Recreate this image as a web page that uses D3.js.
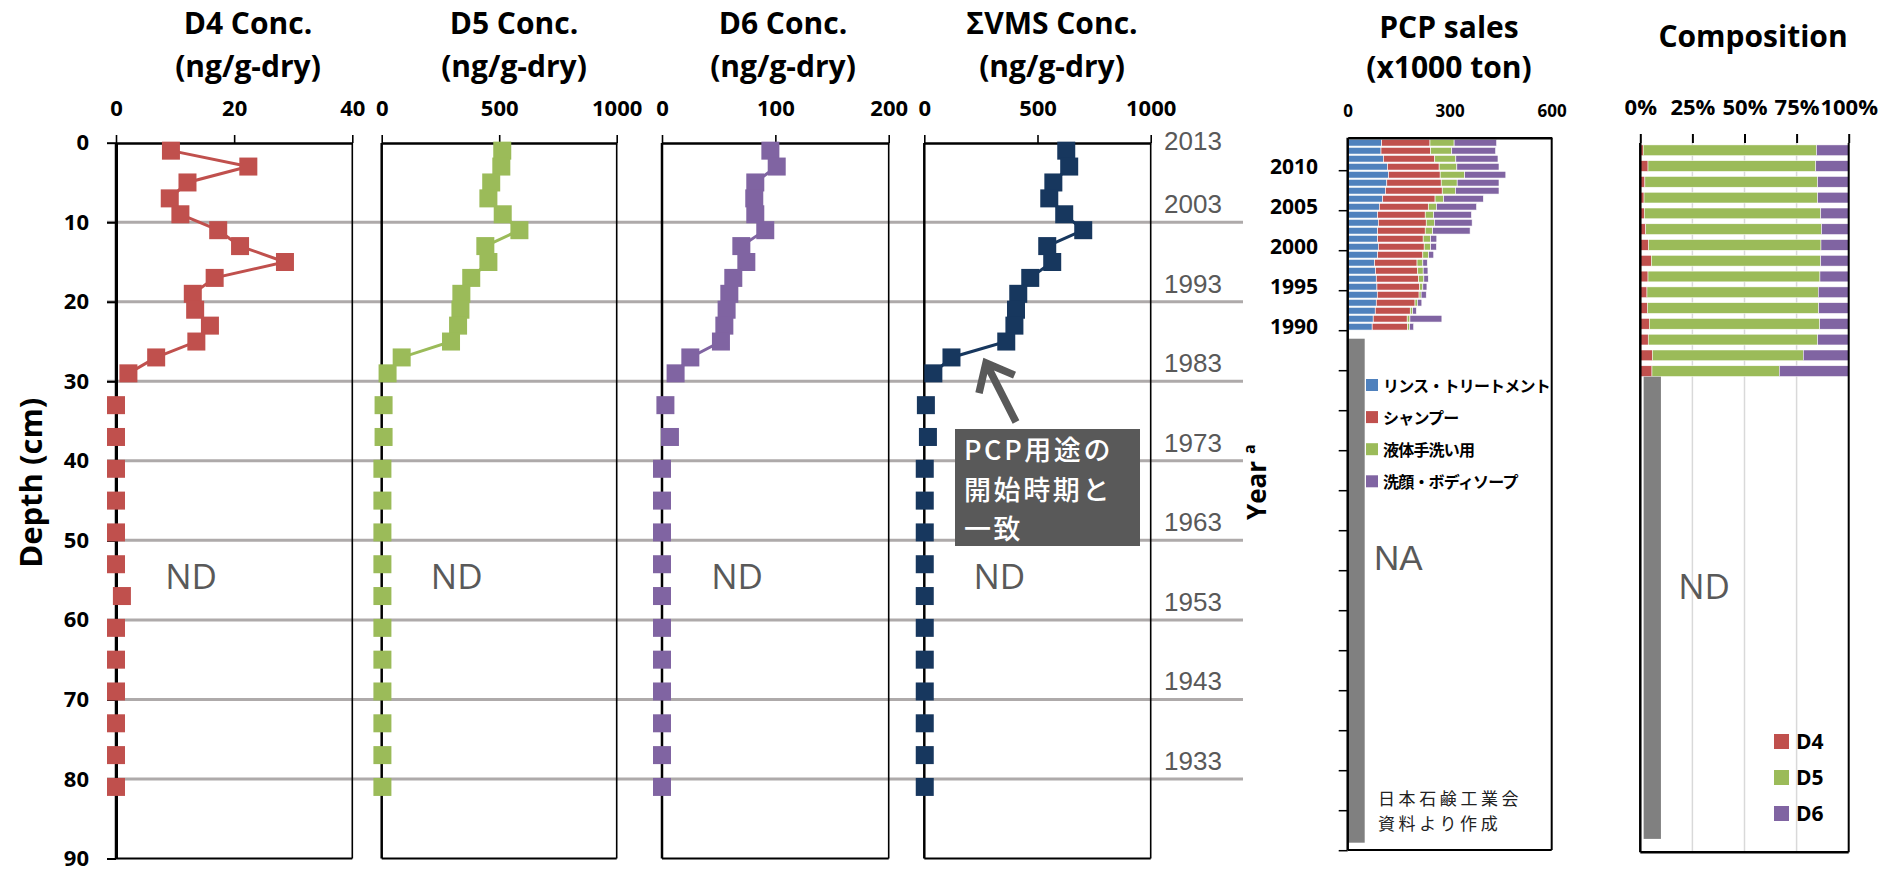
<!DOCTYPE html>
<html>
<head>
<meta charset="utf-8">
<script src="https://cdn.jsdelivr.net/npm/d3@7"></script>
<style>
  body { margin: 0; background: #fff; }
  svg { display: block; }
  .b { font-family: "Open Sans", sans-serif; font-weight: 700; fill: #000; }
  .jp { font-family: "Noto Sans CJK JP", sans-serif; }
</style>
</head>
<body>
<svg id="chart" width="1899" height="869"></svg>
<script>
// ---- sediment core: sample mid-depths (cm); the first 15 are above detection limit ----
const depths = [1, 3, 5, 7, 9, 11, 13, 15, 17, 19, 21, 23, 25, 27, 29,
                33, 37, 41, 45, 49, 53, 57, 61, 65, 69, 73, 77, 81];
const detectedCount = 15;

// concentrations (ng/g-dry)
const d4Values  = [9.3, 22.4, 12.1, 9.1, 10.9, 17.3, 21.0, 28.6, 16.7, 13.0, 13.4, 15.9, 13.6, 6.8, 2.1,
                   0, 0, 0, 0, 0, 0, 1, 0, 0, 0, 0, 0, 0];
const d5Values  = [513, 509, 466, 454, 515, 586, 441, 454, 381, 339, 335, 325, 295, 85, 25,
                   8, 8, 3, 3, 3, 3, 3, 3, 3, 3, 3, 3, 3];
const d6Values  = [95.6, 101.2, 82.3, 81.4, 82.3, 91.1, 70.0, 74.4, 62.9, 59.4, 57, 55, 52, 25, 12,
                   3, 7, 0, 0, 0, 0, 0, 0, 0, 0, 0, 0, 0];
const vmsValues = [627, 640, 570, 552, 618, 702, 543, 565, 468, 415, 405, 398, 362, 120, 40,
                   7, 16, 2, 2, 2, 2, 2, 2, 2, 2, 2, 2, 2];

const depthTicks = [0, 10, 20, 30, 40, 50, 60, 70, 80, 90];
const gridDepths = [10, 20, 30, 40, 50, 60, 70, 80];
const d4Ticks = [0, 20, 40];
const d5Ticks = [0, 500, 1000];
const d6Ticks = [0, 100, 200];
const vmsTicks = [0, 500, 1000];

// estimated deposition year at depth marks
const coreYears = [2013, 2003, 1993, 1983, 1973, 1963, 1953, 1943, 1933];
const coreYearDepths = [0, 10, 20, 30, 40, 50, 60, 70, 80];

// ---- PCP sales (x1000 ton), 2013 -> 1990 ----
const pcpYears  = [2013, 2012, 2011, 2010, 2009, 2008, 2007, 2006, 2005, 2004, 2003, 2002,
                   2001, 2000, 1999, 1998, 1997, 1996, 1995, 1994, 1993, 1992, 1991, 1990];
const rinseSales    = [100, 98, 105, 117, 120, 115, 111, 103, 93, 88, 90, 88, 88, 90, 88, 79, 82, 84, 86, 87, 84, 81, 75, 72];
const shampooSales  = [142, 146, 151, 152, 152, 160, 167, 154, 144, 140, 141, 140, 134, 135, 133, 125, 124, 124, 125, 123, 114, 103, 100, 104];
const handSoapSales = [71, 62, 62, 52, 72, 47, 39, 25, 24, 25, 24, 22, 22, 19, 17, 17, 16, 16, 10, 6, 7, 7, 8, 6];
const bodySoapSales = [125, 129, 124, 124, 121, 123, 128, 117, 118, 111, 111, 110, 18, 17, 15, 13, 14, 13, 12, 15, 13, 11, 94, 12];
const salesKeys   = ["rinse", "shampoo", "hand", "body"];
const salesLabels = ["リンス・トリートメント", "シャンプー", "液体手洗い用", "洗顔・ボディソープ"];
const salesTicks = [0, 300, 600];
const salesLabelYears = [2010, 2005, 2000, 1995, 1990];
const salesAxisYears = d3.range(2013, 1924, -1);   // category axis 2013 ... 1925
const naFromYear = 1988, naToYear = 1926, naBarValue = 50;

// ---- composition (%) for the detected layers ----
const compD4 = [1.4, 3.7, 2.2, 1.8, 1.9, 2.6, 4.0, 5.3, 3.7, 3.2, 3.4, 4.3, 3.8, 5.8, 5.6];
const compD5 = [83.2, 80.5, 82.9, 83.3, 84.7, 84.4, 82.7, 81.3, 82.5, 82.2, 82.2, 81.8, 81.3, 72.4, 61.1];
const compD6 = [15.4, 15.8, 14.9, 14.9, 13.4, 13.0, 13.3, 13.4, 13.8, 14.6, 14.4, 13.9, 14.9, 21.8, 33.3];
const compTicks = [0, 25, 50, 75, 100];
const compNames = ["D4", "D5", "D6"];
const ndBarFrom = 29.7, ndBarTo = 88.3, ndBarStart = 1.6, ndBarEnd = 9.9;

// ---- styling ----
const RED = "#c0504d", GREEN = "#9bbb59", PURPLE = "#8064a2", NAVY = "#17375e", BLUE = "#4f81bd";
const GRID = "#aeaaaa", DARKGRAY = "#595959";

const svg = d3.select("#chart");
svg.append("rect").attr("width", 1899).attr("height", 869).attr("fill", "#fff");

const yDepth = d3.scaleLinear().domain([0, 90]).range([142.7, 858.5]);
const panelTop = 143, panelBottom = yDepth(90);

// horizontal depth grid running across the four concentration panels
svg.append("g").selectAll("line").data(gridDepths).join("line")
  .attr("x1", 107).attr("x2", 1243)
  .attr("y1", d => yDepth(d)).attr("y2", d => yDepth(d))
  .attr("stroke", GRID).attr("stroke-width", 3);

// depth axis
const depthAxis = d3.axisLeft(yDepth).tickValues(depthTicks).tickSize(9).tickPadding(18).tickSizeOuter(0);
const gDepth = svg.append("g").attr("transform", "translate(116,0)").call(depthAxis);
gDepth.select(".domain").attr("stroke", "#000").attr("stroke-width", 3);
gDepth.selectAll(".tick line").attr("stroke", "#000").attr("stroke-width", 2);
gDepth.selectAll(".tick text").attr("class", "b").style("font-size", "22px");

svg.append("text").attr("class", "b").style("font-size", "31px")
  .attr("text-anchor", "middle")
  .attr("transform", `translate(42,${(yDepth(32) + yDepth(53.5)) / 2}) rotate(-90)`)
  .text("Depth (cm)");

const panels = [
  { title: ["D4 Conc.", "(ng/g-dry)"], ticks: d4Ticks, x0: 116, x1: 352.3, titleX: 248, color: RED, values: d4Values },
  { title: ["D5 Conc.", "(ng/g-dry)"], ticks: d5Ticks, x0: 381.7, x1: 616.7, titleX: 514, color: GREEN, values: d5Values },
  { title: ["D6 Conc.", "(ng/g-dry)"], ticks: d6Ticks, x0: 662, x1: 888.7, titleX: 783, color: PURPLE, values: d6Values },
  { title: ["ΣVMS Conc.", "(ng/g-dry)"], ticks: vmsTicks, x0: 924.3, x1: 1150.7, titleX: 1052, color: NAVY, values: vmsValues }
];

panels.forEach(p => {
  const x = d3.scaleLinear().domain([p.ticks[0], p.ticks[p.ticks.length - 1]]).range([p.x0, p.x1]);
  const g = svg.append("g");

  // frame
  g.append("line").attr("x1", p.x0).attr("x2", p.x0).attr("y1", panelTop).attr("y2", panelBottom)
    .attr("stroke", "#000").attr("stroke-width", 2.5);
  g.append("line").attr("x1", p.x1).attr("x2", p.x1).attr("y1", panelTop).attr("y2", panelBottom)
    .attr("stroke", "#000").attr("stroke-width", 1.6);
  g.append("line").attr("x1", p.x0).attr("x2", p.x1).attr("y1", panelBottom).attr("y2", panelBottom)
    .attr("stroke", "#000").attr("stroke-width", 2);

  const ax = g.append("g").attr("transform", `translate(0,${panelTop})`)
    .call(d3.axisTop(x).tickValues(p.ticks).tickFormat(d3.format("d"))
      .tickSize(8).tickSizeOuter(0).tickPadding(19));
  ax.select(".domain").attr("stroke", "#000").attr("stroke-width", 2.5);
  ax.selectAll(".tick line").attr("stroke", "#000").attr("stroke-width", 1.6);
  ax.selectAll(".tick text").attr("class", "b").style("font-size", "22px");

  // title
  g.append("text").attr("class", "b").style("font-size", "30px").attr("text-anchor", "middle")
    .attr("x", p.titleX).attr("y", 34).text(p.title[0]);
  g.append("text").attr("class", "b").style("font-size", "30px").attr("text-anchor", "middle")
    .attr("x", p.titleX).attr("y", 77).text(p.title[1]);

  const pts = depths.map((d, i) => ({ d, v: p.values[i], detected: i < detectedCount }));
  g.append("path").datum(pts.filter(q => q.detected))
    .attr("d", d3.line().x(q => x(q.v)).y(q => yDepth(q.d)))
    .attr("fill", "none").attr("stroke", p.color).attr("stroke-width", 3);
  g.selectAll("rect.mk").data(pts).join("rect").attr("class", "mk")
    .attr("x", q => x(q.v) - 9).attr("y", q => yDepth(q.d) - 9)
    .attr("width", 18).attr("height", 18).attr("fill", p.color);

  g.append("text").attr("x", p.x0 + 75).attr("y", 589).attr("text-anchor", "middle")
    .style("font-family", "'Open Sans', sans-serif").style("font-size", "35px").attr("fill", DARKGRAY)
    .text("ND");
});

// deposition-year labels
svg.append("g").selectAll("text").data(coreYears).join("text")
  .attr("x", 1164)
  .attr("y", (yr, i) => coreYearDepths[i] === 0 ? yDepth(0) + 7 : yDepth(coreYearDepths[i]) - 9)
  .style("font-family", "'Liberation Sans', Arial, sans-serif").style("font-size", "26px")
  .attr("fill", DARKGRAY).text(d => d);

const yearTitle = svg.append("text").attr("class", "b").style("font-size", "26px")
  .attr("transform", "translate(1266,520) rotate(-90)");
yearTitle.append("tspan").text("Year");
yearTitle.append("tspan").style("font-size", "16px").attr("dx", 7).attr("dy", -11).text("a");

// annotation: start of PCP use
const tip = [986, 363], tail = [1016, 422];
const ang = Math.atan2(tail[1] - tip[1], tail[0] - tip[0]);
const arm = 31, spread = 40 * Math.PI / 180;
svg.append("path")
  .attr("d", `M${tail[0]},${tail[1]}L${tip[0]},${tip[1]}` +
    `M${tip[0] + arm * Math.cos(ang - spread)},${tip[1] + arm * Math.sin(ang - spread)}L${tip[0]},${tip[1]}` +
    `L${tip[0] + arm * Math.cos(ang + spread)},${tip[1] + arm * Math.sin(ang + spread)}`)
  .attr("fill", "none").attr("stroke", DARKGRAY).attr("stroke-width", 7.5).attr("stroke-linejoin", "miter");
svg.append("rect").attr("x", 955).attr("y", 429).attr("width", 185).attr("height", 117).attr("fill", DARKGRAY);
const noteLines = ["PCP用途の", "開始時期と", "一致"];
svg.append("g").selectAll("text").data(noteLines).join("text")
  .attr("class", "jp").attr("x", 964).attr("y", (s, i) => 460 + i * 39.5)
  .style("font-size", "27px").style("font-weight", 500).style("letter-spacing", "2.6px")
  .attr("fill", "#fff").text(s => s);

// ---- PCP sales panel ----
const xSales = d3.scaleLinear().domain([0, 600]).range([1347.7, 1551.7]);
const ySales = d3.scaleBand().domain(salesAxisYears).range([138.7, 850.7]).paddingInner(0.16).paddingOuter(0.08);
const step = ySales.step();
const bandTop = yr => ySales(yr) - step * 0.08;
const salesBottom = 850;

const gs = svg.append("g");
gs.append("text").attr("class", "b").style("font-size", "30px").attr("text-anchor", "middle")
  .attr("x", 1449).attr("y", 38).text("PCP sales");
gs.append("text").attr("class", "b").style("font-size", "30px").attr("text-anchor", "middle")
  .attr("x", 1449).attr("y", 78).text("(x1000 ton)");

const rows = pcpYears.map((yr, i) => ({
  year: yr, rinse: rinseSales[i], shampoo: shampooSales[i], hand: handSoapSales[i], body: bodySoapSales[i]
}));
const stacked = d3.stack().keys(salesKeys)(rows);
const salesColors = [BLUE, RED, GREEN, PURPLE];
gs.append("g").selectAll("g").data(stacked).join("g").attr("fill", (s, i) => salesColors[i])
  .selectAll("rect").data(s => s).join("rect")
  .attr("x", d => xSales(d[0])).attr("width", d => xSales(d[1]) - xSales(d[0]))
  .attr("y", d => ySales(d.data.year)).attr("height", ySales.bandwidth())
  .attr("stroke", "#fff").attr("stroke-width", 0.6);

// period without sales statistics
gs.append("rect").attr("x", xSales(0)).attr("width", xSales(naBarValue) - xSales(0))
  .attr("y", bandTop(naFromYear)).attr("height", bandTop(naToYear) + step - bandTop(naFromYear))
  .attr("fill", "#808080");

// frame and axes
gs.append("line").attr("x1", xSales(600)).attr("x2", xSales(600)).attr("y1", 137.7).attr("y2", salesBottom)
  .attr("stroke", "#000").attr("stroke-width", 2);
gs.append("line").attr("x1", xSales(0)).attr("x2", xSales(600)).attr("y1", salesBottom).attr("y2", salesBottom)
  .attr("stroke", "#000").attr("stroke-width", 2);
gs.append("line").attr("x1", xSales(0)).attr("x2", xSales(0)).attr("y1", 137.7).attr("y2", salesBottom)
  .attr("stroke", "#000").attr("stroke-width", 2.5);
const axS = gs.append("g").attr("transform", "translate(0,137.7)")
  .call(d3.axisTop(xSales).tickValues(salesTicks).tickSize(0).tickSizeOuter(0).tickPadding(21));
axS.select(".domain").attr("stroke", "#000").attr("stroke-width", 2.5);
axS.selectAll(".tick text").attr("class", "b").style("font-size", "17px");

gs.append("g").selectAll("line").data(salesAxisYears.filter(yr => yr % 5 === 0)).join("line")
  .attr("x1", xSales(0) - 9).attr("x2", xSales(0))
  .attr("y1", yr => bandTop(yr) + step).attr("y2", yr => bandTop(yr) + step)
  .attr("stroke", "#000").attr("stroke-width", 1.5);
gs.append("g").selectAll("text").data(salesLabelYears).join("text")
  .attr("class", "b").style("font-size", "21px").attr("text-anchor", "end")
  .attr("x", 1318).attr("y", yr => ySales(yr) + ySales.bandwidth() / 2).attr("dy", "0.36em")
  .text(d => d);

// legend
const lg = gs.append("g").selectAll("g").data(salesLabels).join("g")
  .attr("transform", (d, i) => `translate(1366,${385 + i * 32.1})`);
lg.append("rect").attr("x", 0).attr("y", -6).attr("width", 12).attr("height", 12).attr("fill", (d, i) => salesColors[i]);
lg.append("text").attr("class", "jp").attr("x", 17).attr("y", 6.5)
  .style("font-size", "16px").style("font-weight", 700).style("letter-spacing", "-0.8px").attr("fill", "#000")
  .text(d => d);

gs.append("text").attr("x", 1374).attr("y", 570)
  .style("font-family", "'Liberation Sans', Arial, sans-serif").style("font-size", "35px").attr("fill", DARKGRAY)
  .text("NA");
const srcLines = ["日本石鹸工業会", "資料より作成"];
gs.append("g").selectAll("text").data(srcLines).join("text")
  .attr("class", "jp").attr("x", 1378).attr("y", (s, i) => 805 + i * 24.8)
  .style("font-size", "17px").style("letter-spacing", "3.6px").attr("fill", "#222")
  .text(s => s);

// ---- composition panel ----
const xComp = d3.scaleLinear().domain([0, 100]).range([1640.3, 1848.7]);
const yComp = d3.scaleLinear().domain([0, 90]).range([142.4, 852.3]);
const gc = svg.append("g");
gc.append("text").attr("class", "b").style("font-size", "30px").attr("text-anchor", "middle")
  .attr("x", 1753).attr("y", 47).text("Composition");

gc.append("g").selectAll("line").data(compTicks.slice(1, -1)).join("line")
  .attr("x1", d => xComp(d)).attr("x2", d => xComp(d)).attr("y1", 143).attr("y2", yComp(90))
  .attr("stroke", "#d9d9d9").attr("stroke-width", 1.5);

const compRows = compD4.map((v, i) => ({ depth: depths[i], D4: v, D5: compD5[i], D6: compD6[i] }));
const compStack = d3.stack().keys(compNames)(compRows);
const compColors = [RED, GREEN, PURPLE];
gc.append("g").selectAll("g").data(compStack).join("g").attr("fill", (s, i) => compColors[i])
  .selectAll("rect").data(s => s).join("rect")
  .attr("x", d => xComp(d[0])).attr("width", d => xComp(d[1]) - xComp(d[0]))
  .attr("y", d => yComp(d.data.depth - 0.68)).attr("height", d => yComp(d.data.depth + 0.68) - yComp(d.data.depth - 0.68))
  .attr("stroke", "#fff").attr("stroke-width", 0.5);

gc.append("rect").attr("x", xComp(ndBarStart)).attr("width", xComp(ndBarEnd) - xComp(ndBarStart))
  .attr("y", yComp(ndBarFrom)).attr("height", yComp(ndBarTo) - yComp(ndBarFrom)).attr("fill", "#808080");

gc.append("line").attr("x1", xComp(0)).attr("x2", xComp(0)).attr("y1", 143).attr("y2", yComp(90))
  .attr("stroke", "#000").attr("stroke-width", 2.5);
gc.append("line").attr("x1", xComp(100)).attr("x2", xComp(100)).attr("y1", 143).attr("y2", yComp(90))
  .attr("stroke", "#000").attr("stroke-width", 2);
gc.append("line").attr("x1", xComp(0)).attr("x2", xComp(100)).attr("y1", yComp(90)).attr("y2", yComp(90))
  .attr("stroke", "#000").attr("stroke-width", 2.5);
const axC = gc.append("g").attr("transform", "translate(0,143)")
  .call(d3.axisTop(xComp).tickValues(compTicks).tickFormat(d => d + "%").tickSize(9).tickSizeOuter(0).tickPadding(19));
axC.select(".domain").remove();
axC.selectAll(".tick line").attr("stroke", "#000").attr("stroke-width", 2);
axC.selectAll(".tick text").attr("class", "b").style("font-size", "22px");

gc.append("text").attr("x", 1704).attr("y", 599).attr("text-anchor", "middle")
  .style("font-family", "'Open Sans', sans-serif").style("font-size", "35px").attr("fill", DARKGRAY)
  .text("ND");

const lc = gc.append("g").selectAll("g").data(compNames).join("g")
  .attr("transform", (d, i) => `translate(1774,${741.5 + i * 36})`);
lc.append("rect").attr("y", -7.5).attr("width", 15).attr("height", 15).attr("fill", (d, i) => compColors[i]);
lc.append("text").attr("class", "b").attr("x", 22).attr("y", 7.5).style("font-size", "21px").text(d => d);
</script>
</body>
</html>
